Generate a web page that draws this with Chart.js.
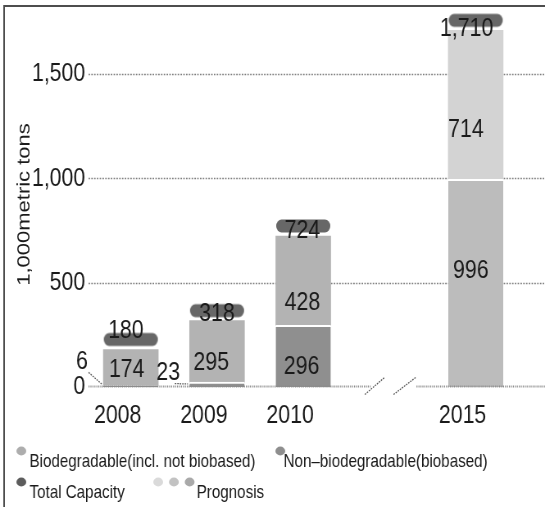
<!DOCTYPE html>
<html>
<head>
<meta charset="utf-8">
<script src="https://cdn.jsdelivr.net/npm/chart.js@4/dist/chart.umd.min.js"></script>
<style>
  html, body { margin: 0; padding: 0; background: #fff; overflow: hidden; }
  #wrap { width: 545px; height: 507px; }
</style>
</head>
<body>
<!-- the drawing is laid out 665px wide and shown horizontally condensed -->
<div id="wrap"><canvas id="capacity" width="665" height="507" style="display:block;width:545px;height:507px"></canvas></div>
<script>
// Bioplastics production capacity, 1,000 metric tons
var years = ['2008', '2009', '2010', '', '2015'];
var nonBiodegradable = [6, 23, 296, null, null];
var biodegradable = [174, 295, 428, null, null];
var prognosisBase = [null, null, null, null, 996];
var prognosisTop = [null, null, null, null, 714];
var totalCapacity = [180, 318, 724, null, 1710];
var yTicks = [0, 500, 1000, 1500];

var FONT = "'Liberation Sans', Arial, sans-serif";
var INK = '#1a1a1a';

// rounded bar used as the point marker for the totals, floating just above the stack
function makePill(color) {
  var c = document.createElement('canvas');
  c.width = 68;
  c.height = 36;
  var g = c.getContext('2d');
  var x = 1, y = 1.5, w = 66, h = 13, r = 6.5;
  g.filter = 'blur(0.6px)';
  g.fillStyle = color;
  g.beginPath();
  g.moveTo(x + r, y);
  g.lineTo(x + w - r, y);
  g.arc(x + w - r, y + r, r, -Math.PI / 2, Math.PI / 2);
  g.lineTo(x + r, y + h);
  g.arc(x + r, y + r, r, Math.PI / 2, Math.PI * 1.5);
  g.closePath();
  g.fill();
  return c;
}

var sepBorder = { top: 2, left: 0, right: 0, bottom: 0 };

// dotted value lines, the broken baseline and the frame
var dottedGrid = {
  id: 'dottedGrid',
  beforeDatasetsDraw: function (chart) {
    var ctx = chart.ctx, y = chart.scales.y, area = chart.chartArea;
    ctx.save();
    ctx.strokeStyle = '#7e7e7e';
    ctx.lineWidth = 1.3;
    ctx.setLineDash([1.8, 1.6]);
    yTicks.forEach(function (v) {
      if (v === 0) return;
      var py = Math.round(y.getPixelForValue(v)) + 0.5;
      ctx.beginPath();
      ctx.moveTo(area.left + 1, py);
      ctx.lineTo(chart.width, py);
      ctx.stroke();
    });
    ctx.restore();
  },
  afterDatasetsDraw: function (chart) {
    var ctx = chart.ctx, x = chart.scales.x, y = chart.scales.y, area = chart.chartArea;
    var py = Math.round(y.getPixelForValue(0)) - 0.5;
    var gap = x.getPixelForValue(3);
    ctx.save();
    ctx.strokeStyle = '#8a8a8a';
    ctx.lineWidth = 2;
    ctx.setLineDash([1.2, 1.2]);
    ctx.beginPath();
    ctx.moveTo(area.left + 1, py);
    ctx.lineTo(gap - 23, py);
    ctx.moveTo(gap + 33, py);
    ctx.lineTo(chart.width, py);
    ctx.stroke();
    // axis break marks
    ctx.strokeStyle = '#555';
    ctx.lineWidth = 1.3;
    ctx.setLineDash([1.8, 1.2]);
    ctx.beginPath();
    ctx.moveTo(gap - 30, py + 8);
    ctx.lineTo(gap - 6, py - 9);
    ctx.moveTo(gap + 5, py + 8);
    ctx.lineTo(gap + 32, py - 9);
    ctx.stroke();
    ctx.restore();
  },
  afterDraw: function (chart) {
    var ctx = chart.ctx;
    ctx.save();
    ctx.strokeStyle = '#4d4d4d';
    ctx.lineWidth = 2;
    ctx.beginPath();
    ctx.moveTo(5, chart.height);
    ctx.lineTo(5, 6);
    ctx.lineTo(chart.width, 6);
    ctx.stroke();
    ctx.restore();
  }
};

// value labels: inside each segment, beside thin segments, over the totals
var valueLabels = {
  id: 'valueLabels',
  afterDatasetsDraw: function (chart) {
    var ctx = chart.ctx;
    ctx.save();
    ctx.font = '26px ' + FONT;
    ctx.fillStyle = INK;
    ctx.textAlign = 'center';
    ctx.textBaseline = 'middle';
    chart.data.datasets.forEach(function (ds, di) {
      var meta = chart.getDatasetMeta(di);
      meta.data.forEach(function (el, i) {
        var v = ds.data[i];
        if (v == null) return;
        var s = (ds.labelShift && ds.labelShift[i]) || [0, 0];
        var text = v.toLocaleString('en-US');
        if (ds.type === 'line') {
          ctx.fillText(text, el.x + s[0], el.y + s[1]);
          return;
        }
        var left = el.x - el.width / 2;
        var cy = (el.y + el.base) / 2;
        if (el.base - el.y < 12) {
          var tx = left - 26, ty = cy + s[1];
          ctx.fillText(text, tx, ty);
          ctx.save();
          ctx.strokeStyle = '#555';
          ctx.lineWidth = 1.3;
          ctx.setLineDash([1.8, 1.2]);
          ctx.beginPath();
          ctx.moveTo(tx + 8, ty + 11);
          ctx.lineTo(left - 2, el.base - 3);
          ctx.stroke();
          ctx.restore();
        } else {
          ctx.fillText(text, el.x + s[0], cy + s[1]);
        }
      });
    });
    ctx.restore();
  }
};

var legendEntries = [
  { text: 'Biodegradable(incl. not biobased)', dots: ['#adadad'], x: 26, textX: 36, row: 0 },
  { text: 'Non\u2013biodegradable(biobased)', dots: ['#8e8e8e'], x: 342, textX: 346, row: 0 },
  { text: 'Total Capacity', dots: ['#5c5c5c'], x: 26, textX: 36, row: 1 },
  { text: 'Prognosis', dots: ['#dadada', '#c2c2c2', '#a9a9a9'], x: 193, textX: 240, row: 1 }
];
var legendRows = [467, 498];

var legendPanel = {
  id: 'legendPanel',
  afterDraw: function (chart) {
    var ctx = chart.ctx;
    ctx.save();
    ctx.font = '18.5px ' + FONT;
    ctx.textBaseline = 'alphabetic';
    ctx.textAlign = 'left';
    legendEntries.forEach(function (it) {
      var base = legendRows[it.row];
      it.dots.forEach(function (c, k) {
        ctx.fillStyle = c;
        ctx.beginPath();
        ctx.ellipse(it.x + k * 19.2, base - 16, 6, 4.4, 0, 0, Math.PI * 2);
        ctx.fill();
      });
      ctx.fillStyle = INK;
      ctx.fillText(it.text, it.textX, base);
    });
    ctx.restore();
  }
};

var ctx = document.getElementById('capacity').getContext('2d');
var chart = new Chart(ctx, {
  type: 'bar',
  data: {
    labels: years,
    datasets: [
      {
        type: 'line',
        label: 'Total Capacity',
        data: totalCapacity,
        showLine: false,
        pointStyle: makePill('#676767'),
        pointRadius: 3,
        pointHoverRadius: 3,
        clip: false,
        stack: 'total',
        labelShift: [[-6, -19], [0, -7], [-1, -5], null, [-11, -2]]
      },
      {
        label: 'Non-biodegradable(biobased)',
        data: nonBiodegradable,
        backgroundColor: '#8f8f8f',
        borderColor: '#ffffff',
        borderWidth: sepBorder,
        labelShift: [[0, -25], [0, -12], [-2, 11], null, null]
      },
      {
        label: 'Biodegradable(incl. not biobased)',
        data: biodegradable,
        backgroundColor: '#b3b3b3',
        labelShift: [[-5, 2], [-7, 11], [-1, 22], null, null]
      },
      {
        label: 'Prognosis',
        data: prognosisBase,
        backgroundColor: '#bcbcbc',
        borderColor: '#ffffff',
        borderWidth: sepBorder,
        labelShift: [null, null, null, null, [-6, -12]]
      },
      {
        label: 'Prognosis',
        data: prognosisTop,
        backgroundColor: '#d3d3d3',
        labelShift: [null, null, null, null, [-12, 25]]
      }
    ]
  },
  options: {
    responsive: false,
    devicePixelRatio: 1,
    animation: false,
    events: [],
    layout: { padding: { left: 5, top: 22, right: 32, bottom: 76 } },
    datasets: { bar: { barThickness: 67 } },
    plugins: {
      legend: { display: false },
      tooltip: { enabled: false }
    },
    scales: {
      x: {
        stacked: true,
        afterFit: function (axis) { axis.height = 44; },
        grid: { display: false, drawTicks: false },
        border: { display: false },
        ticks: {
          autoSkip: false,
          maxRotation: 0,
          padding: 13,
          labelOffset: -16,
          color: INK,
          font: { family: FONT, size: 26 }
        }
      },
      y: {
        stacked: true,
        min: 0,
        max: 1750,
        afterFit: function (axis) { axis.width = 102; },
        afterBuildTicks: function (axis) {
          axis.ticks = yTicks.map(function (v) { return { value: v }; });
        },
        grid: { display: false, drawTicks: false },
        border: { display: false },
        ticks: {
          padding: 3,
          color: INK,
          font: { family: FONT, size: 26 },
          callback: function (v) { return v.toLocaleString('en-US'); }
        },
        title: {
          display: true,
          text: '1,000metric tons',
          color: INK,
          padding: { top: 12, bottom: 0 },
          font: { family: FONT, size: 22 }
        }
      }
    }
  },
  plugins: [dottedGrid, valueLabels, legendPanel]
});
</script>
</body>
</html>
